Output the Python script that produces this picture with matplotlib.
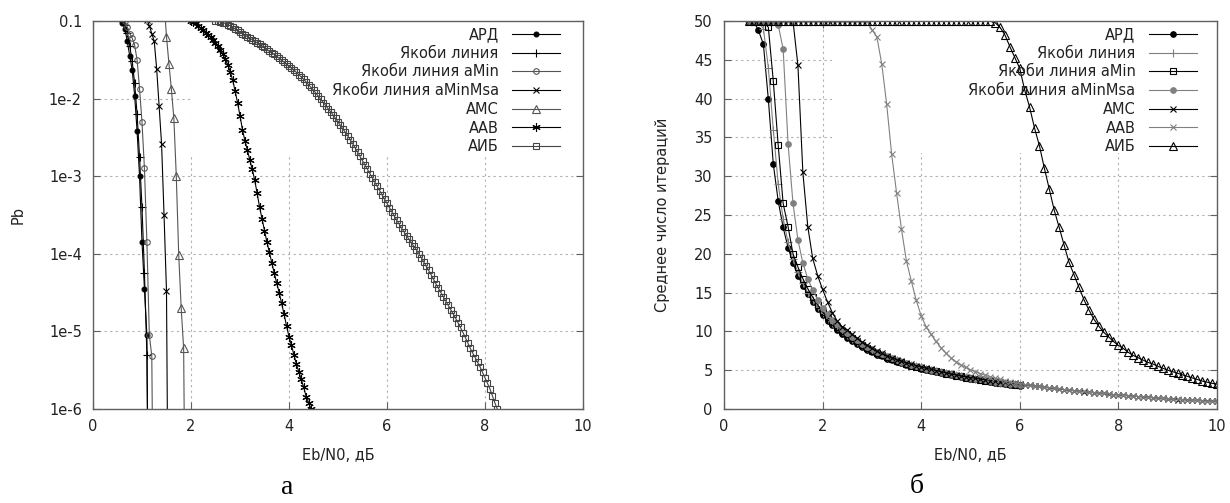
import numpy as np
import matplotlib
matplotlib.use("Agg")
from matplotlib import pyplot as plt
from matplotlib.patches import Rectangle

# ---- left panel: bit error probability, values given as log10(Pb) ----
labels = ["АРД", "Якоби линия", "Якоби линия aMin", "Якоби линия aMinMsa", "АМС", "ААВ", "АИБ"]

x_ard = [0.5, 0.55, 0.6, 0.65, 0.7, 0.75, 0.8, 0.85, 0.9, 0.95, 1.0, 1.05, 1.1, 1.15]
lg_ard = [-0.90, -0.97, -1.02, -1.10, -1.26, -1.45, -1.63, -1.96, -2.42, -3.00, -3.85, -4.45, -5.05, -9.0]

x_jac = [0.55, 0.6, 0.65, 0.7, 0.75, 0.8, 0.85, 0.9, 0.95, 1.0, 1.05, 1.1, 1.15]
lg_jac = [-0.92, -0.98, -1.05, -1.15, -1.32, -1.52, -1.80, -2.20, -2.75, -3.40, -4.25, -5.30, -9.0]

x_amin = [0.6, 0.65, 0.7, 0.75, 0.8, 0.85, 0.9, 0.95, 1.0, 1.05, 1.1, 1.15, 1.2, 1.25]
lg_amin = [-0.95, -1.00, -1.08, -1.16, -1.22, -1.31, -1.50, -1.87, -2.30, -2.90, -3.85, -5.05, -5.32, -9.0]

x_msa = [1.05, 1.1, 1.15, 1.2, 1.25, 1.3, 1.35, 1.4, 1.45, 1.5, 1.55]
lg_msa = [-0.85, -0.98, -1.06, -1.16, -1.26, -1.62, -2.10, -2.59, -3.50, -4.48, -9.0]

x_ams = [1.45, 1.5, 1.55, 1.6, 1.65, 1.7, 1.75, 1.8, 1.85, 1.9]
lg_ams = [-0.75, -1.20, -1.55, -1.88, -2.25, -3.00, -4.02, -4.70, -5.22, -9.0]

x_aab = np.round(np.arange(2.0, 4.46, 0.05), 2)
lg_aab = [-1.00, -1.01, -1.03, -1.06, -1.09, -1.12, -1.15, -1.18, -1.21, -1.24,
          -1.28, -1.32, -1.37, -1.43, -1.49, -1.56, -1.65, -1.76, -1.90, -2.05,
          -2.22, -2.40, -2.54, -2.66, -2.79, -2.91, -3.05, -3.22, -3.40, -3.55,
          -3.70, -3.85, -3.98, -4.12, -4.25, -4.38, -4.50, -4.64, -4.78, -4.93,
          -5.07, -5.18, -5.30, -5.42, -5.52, -5.62, -5.72, -5.84, -5.92, -6.00]

x_aib = np.round(np.arange(2.5, 8.26, 0.05), 2)
lg_aib = [-1.00, -1.00, -1.01, -1.02, -1.03, -1.045, -1.06, -1.08, -1.10, -1.12,
          -1.14, -1.16, -1.18, -1.20, -1.22, -1.24, -1.26, -1.28, -1.30, -1.32,
          -1.34, -1.365, -1.39, -1.41, -1.43, -1.455, -1.48, -1.505, -1.53, -1.555,
          -1.58, -1.605, -1.63, -1.66, -1.69, -1.72, -1.75, -1.785, -1.82, -1.855,
          -1.89, -1.93, -1.97, -2.01, -2.05, -2.09, -2.13, -2.17, -2.21, -2.255,
          -2.30, -2.345, -2.39, -2.435, -2.48, -2.53, -2.58, -2.635, -2.69, -2.745,
          -2.80, -2.855, -2.91, -2.965, -3.02, -3.075, -3.13, -3.185, -3.24, -3.295,
          -3.35, -3.405, -3.46, -3.515, -3.57, -3.62, -3.67, -3.72, -3.77, -3.815,
          -3.86, -3.905, -3.95, -4.00, -4.05, -4.105, -4.16, -4.215, -4.27, -4.33,
          -4.39, -4.445, -4.50, -4.555, -4.61, -4.665, -4.72, -4.775, -4.83, -4.89,
          -4.95, -5.015, -5.08, -5.15, -5.22, -5.28, -5.34, -5.40, -5.46, -5.53,
          -5.60, -5.67, -5.74, -5.83, -5.92, -6.00]

# ---- right panel: mean number of iterations ----
x_r6 = np.round(np.arange(0.5, 6.01, 0.1), 1)
x_r10 = np.round(np.arange(0.5, 10.01, 0.1), 1)

it_ard = [50, 50, 48.8, 47.0, 39.9, 31.6, 26.8, 23.4, 20.8, 18.8, 17.2, 15.9, 14.8, 13.8, 12.9,
          12.1, 11.4, 10.8, 10.2, 9.7, 9.2, 8.8, 8.4, 8.0, 7.6,
          7.3, 7.0, 6.8, 6.5, 6.3, 6.1, 5.9, 5.7, 5.5, 5.35,
          5.2, 5.05, 4.9, 4.75, 4.6, 4.5, 4.35, 4.25, 4.1, 4.0,
          3.9, 3.8, 3.7, 3.6, 3.5, 3.4, 3.3, 3.25, 3.15, 3.1,
          3.0]
it_jac = [50, 50, 50, 49.0, 44.0, 36.0, 29.0, 24.5, 21.5, 19.3, 17.6, 16.2, 15.0, 14.0, 13.1,
          12.4, 11.7, 11.1, 10.5, 10.0, 9.5, 9.0, 8.6, 8.2, 7.8,
          7.5, 7.2, 6.95, 6.7, 6.45, 6.25, 6.05, 5.85, 5.65, 5.5,
          5.35, 5.2, 5.05, 4.9, 4.75, 4.6, 4.5, 4.35, 4.25, 4.1,
          4.0, 3.9, 3.8, 3.7, 3.6, 3.5, 3.4, 3.35, 3.25, 3.2,
          3.1]
it_amin = [50, 50, 50, 50, 49.2, 42.3, 34.0, 26.5, 23.5, 20.0, 18.3, 16.8, 15.5, 14.4, 13.4,
           12.5, 11.8, 11.2, 10.6, 10.1, 9.6, 9.1, 8.7, 8.3, 7.9,
           7.5, 7.2, 6.9, 6.65, 6.4, 6.2, 6.0, 5.8, 5.6, 5.45,
           5.3, 5.15, 5.0, 4.85, 4.7, 4.55, 4.45, 4.3, 4.2, 4.05,
           3.95, 3.85, 3.75, 3.65, 3.55, 3.45, 3.35, 3.3, 3.2, 3.15,
           3.05]
it_msa = [50, 50, 50, 50, 50, 50, 49.5, 46.4, 34.2, 26.5, 21.8, 18.8, 16.8, 15.3, 14.1,
          13.0, 12.2, 11.5, 10.9, 10.3, 9.8, 9.3, 8.9, 8.4, 8.0,
          7.7, 7.35, 7.05, 6.8, 6.55, 6.3, 6.1, 5.9, 5.7, 5.55,
          5.4, 5.2, 5.05, 4.9, 4.75, 4.6, 4.5, 4.35, 4.25, 4.15,
          4.0, 3.9, 3.8, 3.7, 3.6, 3.5, 3.4, 3.35, 3.25, 3.2,
          3.1]
it_ams = [50, 50, 50, 50, 50, 50, 50, 50, 50, 50, 44.3, 30.5, 23.5, 19.4, 17.2,
          15.4, 13.8, 12.4, 11.3, 10.6, 10.2, 9.6, 9.1, 8.6, 8.2,
          7.8, 7.45, 7.15, 6.85, 6.6, 6.35, 6.15, 5.95, 5.75, 5.6,
          5.4, 5.25, 5.1, 4.95, 4.8, 4.65, 4.5, 4.4, 4.25, 4.15,
          4.05, 3.95, 3.85, 3.75, 3.65, 3.6, 3.5, 3.45, 3.35, 3.3,
          3.2, 3.1, 3.05, 2.95, 2.9, 2.8, 2.7, 2.65, 2.55, 2.5,
          2.4, 2.35, 2.3, 2.2, 2.15, 2.1, 2.05, 2.0, 1.9, 1.85,
          1.8, 1.75, 1.7, 1.65, 1.6, 1.55, 1.5, 1.45, 1.4, 1.35,
          1.3, 1.25, 1.2, 1.2, 1.15, 1.1, 1.1, 1.05, 1.05, 1.0,
          1.0]
it_aab = [50, 50, 50, 50, 50, 50, 50, 50, 50, 50,
          50, 50, 50, 50, 50, 50, 50, 50, 50, 50,
          50, 50, 50, 50, 50,
          48.9, 48.0, 44.5, 39.3, 32.9, 27.9, 23.2, 19.1, 16.5, 14.0,
          12.0, 10.6, 9.6, 8.7, 7.9, 7.2, 6.6, 6.1, 5.7, 5.35,
          5.05, 4.8, 4.55, 4.35, 4.15, 3.95, 3.8, 3.6, 3.45, 3.35,
          3.25, 3.15, 3.05, 2.95, 2.9, 2.8, 2.75, 2.65, 2.6, 2.5,
          2.45, 2.35, 2.3, 2.25, 2.15, 2.1, 2.05, 2.0, 1.95, 1.85,
          1.8, 1.75, 1.7, 1.65, 1.6, 1.55, 1.5, 1.45, 1.4, 1.35,
          1.3, 1.25, 1.25, 1.2, 1.15, 1.1, 1.1, 1.05, 1.0, 1.0,
          1.0]
it_aib = [50, 50, 50, 50, 50, 50, 50, 50, 50, 50,
          50, 50, 50, 50, 50, 50, 50, 50, 50, 50,
          50, 50, 50, 50, 50, 50, 50, 50, 50, 50,
          50, 50, 50, 50, 50, 50, 50, 50, 50, 50,
          50, 50, 50, 50, 50, 50, 50, 50, 50, 50,
          49.8, 49.2, 48.2, 46.7, 45.3, 43.9, 41.1, 38.9, 36.2, 33.9,
          31.0, 28.3, 25.6, 23.4, 21.1,
          18.9, 17.3, 15.7, 14.1, 12.8, 11.6, 10.7, 9.9, 9.3, 8.7,
          8.2, 7.8, 7.3, 6.9, 6.6, 6.3, 6.0, 5.8, 5.5, 5.25,
          5.0, 4.8, 4.6, 4.4, 4.2, 4.0, 3.8, 3.6, 3.45, 3.3,
          3.2]

GRAY = "#808080"
FRAME = "#606060"
TXT = "#222222"


def style_axes(ax, xlabel, ylabel, ylab_x):
    ax.set_xlim(0, 10)
    ax.set_xticks([0, 2, 4, 6, 8, 10])
    ax.set_axisbelow(True)
    ax.grid(True, color="#b0b0b0", linestyle=(0, (2, 3)), linewidth=0.8)
    ax.tick_params(direction="in", top=True, right=True, length=5, width=0.8,
                   color=FRAME, labelsize=10.5, labelcolor=TXT)
    ax.tick_params(axis="y", pad=8)
    ax.tick_params(axis="x", pad=7)
    for sp in ax.spines.values():
        sp.set_color(FRAME)
        sp.set_linewidth(1.0)
    ax.set_xlabel(xlabel, fontsize=10.5, color=TXT, labelpad=10)
    ax.set_ylabel(ylabel, fontsize=10.5, color=TXT)
    ax.yaxis.set_label_coords(ylab_x, 0.5)


def add_legend(ax, xr):
    leg = ax.legend(loc="upper right", bbox_to_anchor=(xr, 0.985), frameon=False,
                    markerfirst=False, fontsize=10.5, handlelength=3.3,
                    handletextpad=0.9, labelspacing=0.255, borderpad=0,
                    borderaxespad=0)
    for t in leg.get_texts():
        t.set_color(TXT)


fig = plt.figure(figsize=(12.3, 5.03), dpi=100)

# left panel
ax1 = fig.add_axes([0.0756, 0.187, 0.3984, 0.771])
ax1.set_yscale("log")
ax1.set_ylim(1e-6, 0.1)
ax1.set_yticks([1e-1, 1e-2, 1e-3, 1e-4, 1e-5, 1e-6])
ax1.set_yticklabels(["0.1", "1e-2", "1e-3", "1e-4", "1e-5", "1e-6"])
ax1.yaxis.set_minor_locator(matplotlib.ticker.NullLocator())
style_axes(ax1, "Eb/N0, дБ", "Pb", -0.137)
ax1.add_patch(Rectangle((0.2, 0.657), 0.8, 0.343, transform=ax1.transAxes,
                        facecolor="white", edgecolor="none", zorder=0.8))

left_series = [
    (x_ard, lg_ard, "o", "black", "black", 3.5),
    (x_jac, lg_jac, "+", "black", "none", 6),
    (x_amin, lg_amin, "o", "#555555", "none", 4),
    (x_msa, lg_msa, "x", "black", "none", 5),
    (x_ams, lg_ams, "^", "#555555", "none", 5.5),
    (x_aab, lg_aab, (6, 2, 0), "black", "none", 6),
    (x_aib, lg_aib, "s", "#444444", "none", 5),
]
for (xs, lg, mk, col, fc, ms), lab in zip(left_series, labels):
    ax1.plot(xs, 10.0 ** np.array(lg), color=col, linewidth=0.8, marker=mk,
             markersize=ms, markerfacecolor=fc, markeredgecolor=col,
             markeredgewidth=0.8, label=lab, zorder=2)
add_legend(ax1, 0.953)

# right panel
ax2 = fig.add_axes([0.5886, 0.187, 0.4008, 0.771])
ax2.set_ylim(0, 50)
ax2.set_yticks(np.arange(0, 51, 5))
style_axes(ax2, "Eb/N0, дБ", "Среднее число итераций", -0.11)
ax2.add_patch(Rectangle((0.22, 0.66), 0.78, 0.34, transform=ax2.transAxes,
                        facecolor="white", edgecolor="none", zorder=0.8))

right_series = [
    (x_r6, it_ard, "o", "black", "black", 4),
    (x_r6, it_jac, "+", GRAY, "none", 6),
    (x_r6, it_amin, "s", "black", "none", 5),
    (x_r6, it_msa, "o", GRAY, GRAY, 4),
    (x_r10, it_ams, "x", "black", "none", 5),
    (x_r10, it_aab, "x", GRAY, "none", 5),
    (x_r10, it_aib, "^", "black", "none", 5.5),
]
for (xs, ys, mk, col, fc, ms), lab in zip(right_series, labels):
    ax2.plot(xs, ys, color=col, linewidth=0.8, marker=mk, markersize=ms,
             markerfacecolor=fc, markeredgecolor=col, markeredgewidth=0.8,
             label=lab, zorder=2)
add_legend(ax2, 0.959)

fig.text(0.2333, 0.030, "а", fontsize=20, family="Liberation Serif",
         ha="center", va="center")
fig.text(0.7455, 0.032, "б", fontsize=20, family="Liberation Serif",
         ha="center", va="center")

fig.savefig("out.png", dpi=100)
